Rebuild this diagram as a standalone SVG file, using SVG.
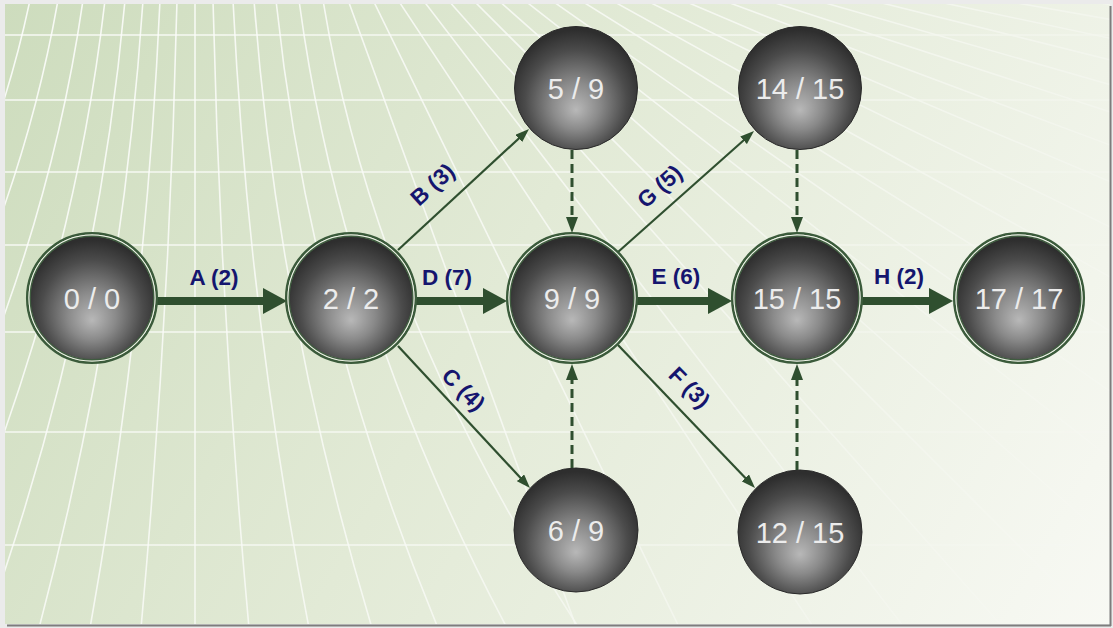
<svg xmlns="http://www.w3.org/2000/svg" width="1113" height="628" viewBox="0 0 1113 628">
<defs>
  <linearGradient id="bg" x1="0" y1="0" x2="1113" y2="628" gradientUnits="userSpaceOnUse">
    <stop offset="0" stop-color="#cddcbd"/>
    <stop offset="0.45" stop-color="#e2ead6"/>
    <stop offset="1" stop-color="#f8f9f4"/>
  </linearGradient>
  <linearGradient id="fadeG" x1="0" y1="0" x2="1113" y2="628" gradientUnits="userSpaceOnUse">
    <stop offset="0" stop-color="#fff" stop-opacity="1"/>
    <stop offset="0.5" stop-color="#fff" stop-opacity="0.75"/>
    <stop offset="0.8" stop-color="#fff" stop-opacity="0.25"/>
    <stop offset="1" stop-color="#fff" stop-opacity="0.05"/>
  </linearGradient>
  <mask id="fade" maskUnits="userSpaceOnUse" x="0" y="0" width="1113" height="628">
    <rect x="0" y="0" width="1113" height="628" fill="url(#fadeG)"/>
  </mask>
  <clipPath id="panel"><rect x="5" y="4" width="1105" height="620"/></clipPath>
  <radialGradient id="sphere" cx="0.5" cy="0.58" r="0.55" fx="0.5" fy="0.68">
    <stop offset="0" stop-color="#b8b8b8"/>
    <stop offset="0.35" stop-color="#8a8a8a"/>
    <stop offset="0.75" stop-color="#4b4b4b"/>
    <stop offset="1" stop-color="#2e2e2e"/>
  </radialGradient>
  <marker id="headThick" viewBox="0 0 24 26" refX="12" refY="13" markerWidth="24" markerHeight="26" markerUnits="userSpaceOnUse" orient="auto">
    <path d="M0,0 L24,13 L0,26 Z" fill="#2f4f2f"/>
  </marker>
  <marker id="headThin" viewBox="0 0 14 10" refX="7" refY="5" markerWidth="14" markerHeight="10" markerUnits="userSpaceOnUse" orient="auto">
    <path d="M0,0 L14,5 L0,10 Z" fill="#2f4f2f"/>
  </marker>
  <marker id="headDash" viewBox="0 0 16 12" refX="8" refY="6" markerWidth="16" markerHeight="12" markerUnits="userSpaceOnUse" orient="auto">
    <path d="M0,0 L16,6 L0,12 Z" fill="#2f4f2f"/>
  </marker>
  <style>
    .grid { stroke: #ffffff; stroke-width: 1.6; fill: none; stroke-opacity: 0.85; }
    .ball { fill: url(#sphere); stroke: #2a2a2a; stroke-width: 1; }
    .ballc { fill: url(#sphere); stroke: #3f5c3f; stroke-width: 1.4; }
    .ring1 { fill: none; stroke: #3b5b3b; stroke-width: 2.5; }
    .ring2 { fill: none; stroke: #eef3e8; stroke-width: 1.3; }
    .ntext { font-family: "Liberation Sans", Arial, sans-serif; font-size: 29px; fill: #ececec; text-anchor: middle; }
    .elabel { font-family: "Liberation Sans", Arial, sans-serif; font-size: 22.5px; font-weight: bold; fill: #15156e; text-anchor: middle; }
    .thick { stroke: #2f4f2f; stroke-width: 8; fill: none; marker-end: url(#headThick); }
    .thin { stroke: #2f4f2f; stroke-width: 2.2; fill: none; marker-end: url(#headThin); }
    .dash { stroke: #2f4f2f; stroke-width: 3; fill: none; stroke-dasharray: 9 5; marker-end: url(#headDash); }
  </style>
</defs>

<g id="background">
  <rect x="0" y="0" width="1113" height="628" fill="#ebebeb"/>
  <rect x="5" y="4" width="1105" height="620" fill="url(#bg)"/>
  <g clip-path="url(#panel)" mask="url(#fade)">
    <g class="grid">
      <line x1="0" y1="35" x2="1113" y2="35"/>
      <line x1="0" y1="100" x2="1113" y2="100"/>
      <line x1="0" y1="172" x2="1113" y2="172"/>
      <line x1="0" y1="245" x2="1113" y2="245"/>
      <line x1="0" y1="332" x2="1113" y2="332"/>
      <line x1="0" y1="432" x2="1113" y2="432"/>
      <line x1="0" y1="545" x2="1113" y2="545"/>
      <path d="M30,0 Q-36,314 -300,628"/>
      <path d="M58,0 Q3.2,314 -216,628"/>
      <path d="M83,0 Q38.2,314 -141,628"/>
      <path d="M105,0 Q69,314 -75,628"/>
      <path d="M125,0 Q97,314 -15,628"/>
      <path d="M143,0 Q122.2,314 39,628"/>
      <path d="M160,0 Q146,314 90,628"/>
      <path d="M177,0 Q169.8,314 141,628"/>
      <path d="M195,0 L195,628"/>
      <path d="M213,0 Q220.2,314 249,628"/>
      <path d="M233,0 Q248.2,314 309,628"/>
      <path d="M254,0 Q277.6,314 372,628"/>
      <path d="M276,0 Q308.4,314 438,628"/>
      <path d="M299,0 Q340.6,314 507,628"/>
      <path d="M323,0 Q374.2,314 579,628"/>
      <line x1="348" y1="0" x2="827" y2="1316"/>
      <line x1="373" y1="0" x2="987" y2="1258"/>
      <line x1="398" y1="0" x2="1171" y2="1167"/>
      <line x1="423" y1="0" x2="1275" y2="1111"/>
      <line x1="448" y1="0" x2="1376" y2="1049"/>
      <line x1="473" y1="0" x2="1463" y2="990"/>
      <line x1="498" y1="0" x2="1547" y2="928"/>
      <line x1="524" y1="0" x2="1627" y2="862"/>
      <line x1="551" y1="0" x2="1698" y2="803"/>
      <line x1="580" y1="0" x2="1767" y2="742"/>
      <line x1="611" y1="0" x2="1835" y2="679"/>
      <line x1="645" y1="0" x2="1903" y2="614"/>
      <line x1="682" y1="0" x2="1971" y2="547"/>
      <line x1="722" y1="0" x2="2033" y2="490"/>
      <line x1="766" y1="0" x2="2098" y2="433"/>
      <line x1="815" y1="0" x2="2161" y2="386"/>
      <line x1="870" y1="0" x2="2228" y2="339"/>
      <line x1="930" y1="0" x2="2299" y2="291"/>
      <line x1="1000" y1="0" x2="2379" y2="243"/>
      <line x1="1080" y1="0" x2="2465" y2="207"/>
    </g>
  </g>
  <line x1="1110.5" y1="6" x2="1110.5" y2="626" stroke="#7d7d7d" stroke-width="2"/>
  <line x1="7" y1="625.5" x2="1111" y2="625.5" stroke="#7d7d7d" stroke-width="2"/>
</g>

<g id="connectors">
  <line class="thick" x1="157" y1="301" x2="275" y2="301"/>
  <line class="thick" x1="416" y1="301" x2="495" y2="301"/>
  <line class="thick" x1="637" y1="301" x2="720" y2="301"/>
  <line class="thick" x1="862" y1="301" x2="941" y2="301"/>
  <line class="thin" x1="398" y1="250" x2="523.9" y2="133.7"/>
  <line class="thin" x1="398" y1="346" x2="525.2" y2="482.9"/>
  <line class="thin" x1="618" y1="252" x2="748.8" y2="135.7"/>
  <line class="thin" x1="618" y1="345" x2="750.2" y2="482.9"/>
  <line class="dash" x1="572" y1="150" x2="572" y2="225"/>
  <line class="dash" x1="572" y1="468" x2="572" y2="372"/>
  <line class="dash" x1="797" y1="150" x2="797" y2="225"/>
  <line class="dash" x1="797" y1="470" x2="797" y2="372"/>
  <g id="edge-labels">
    <text class="elabel" x="214" y="285">A (2)</text>
    <text class="elabel" x="447" y="285">D (7)</text>
    <text class="elabel" x="676" y="284">E (6)</text>
    <text class="elabel" x="899" y="284">H (2)</text>
    <text class="elabel" transform="translate(433,185) rotate(-42)" x="0" y="7">B (3)</text>
    <text class="elabel" transform="translate(660,187) rotate(-42)" x="0" y="7">G (5)</text>
    <text class="elabel" transform="translate(463,390) rotate(45)" x="0" y="7">C (4)</text>
    <text class="elabel" transform="translate(689,388) rotate(45)" x="0" y="7">F (3)</text>
  </g>
</g>

<g id="node-0">
  <circle class="ring1" cx="92" cy="298" r="64.8"/>
  <circle class="ring2" cx="92" cy="298" r="62.8"/>
  <circle class="ballc" cx="92" cy="298" r="61.8"/>
  <text class="ntext" x="92" y="309">0 / 0</text>
</g>
<g id="node-2">
  <circle class="ring1" cx="351" cy="298" r="64.8"/>
  <circle class="ring2" cx="351" cy="298" r="62.8"/>
  <circle class="ballc" cx="351" cy="298" r="61.8"/>
  <text class="ntext" x="351" y="309">2 / 2</text>
</g>
<g id="node-9">
  <circle class="ring1" cx="572" cy="298" r="64.8"/>
  <circle class="ring2" cx="572" cy="298" r="62.8"/>
  <circle class="ballc" cx="572" cy="298" r="61.8"/>
  <text class="ntext" x="572" y="309">9 / 9</text>
</g>
<g id="node-15">
  <circle class="ring1" cx="797" cy="298" r="64.8"/>
  <circle class="ring2" cx="797" cy="298" r="62.8"/>
  <circle class="ballc" cx="797" cy="298" r="61.8"/>
  <text class="ntext" x="797" y="309">15 / 15</text>
</g>
<g id="node-17">
  <circle class="ring1" cx="1019" cy="298" r="64.8"/>
  <circle class="ring2" cx="1019" cy="298" r="62.8"/>
  <circle class="ballc" cx="1019" cy="298" r="61.8"/>
  <text class="ntext" x="1019" y="309">17 / 17</text>
</g>
<g id="node-5">
  <circle class="ball" cx="576" cy="88" r="61.5"/>
  <text class="ntext" x="576" y="99">5 / 9</text>
</g>
<g id="node-6">
  <circle class="ball" cx="576" cy="530" r="62"/>
  <text class="ntext" x="576" y="541">6 / 9</text>
</g>
<g id="node-14">
  <circle class="ball" cx="800" cy="88" r="61.5"/>
  <text class="ntext" x="800" y="99">14 / 15</text>
</g>
<g id="node-12">
  <circle class="ball" cx="800" cy="532" r="62"/>
  <text class="ntext" x="800" y="543">12 / 15</text>
</g>
</svg>
